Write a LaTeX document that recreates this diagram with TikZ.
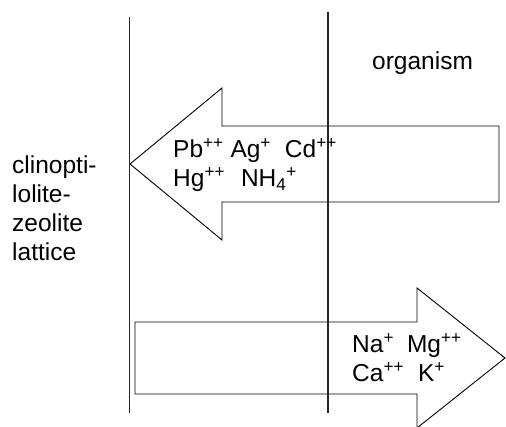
\documentclass[tikz,border=0pt]{standalone}
\usepackage{fontspec}
\setmainfont{Liberation Sans}
\usetikzlibrary{calc,positioning}
\tikzset{%
  wall/.style={line width=1.4pt,draw=black!85},
  flow/.style={line width=0.9pt,draw=black,fill=white,line join=miter},
  label text/.style={inner sep=0pt,anchor=base west,align=left,
    font=\fontsize{24.5}{29}\selectfont}
}

\begin{document}
\begin{tikzpicture}[x=1pt,y=-1pt]

 \useasboundingbox (0,0) rectangle (506,427);

 % lattice surface and organism boundary
 \coordinate (w1t) at (129.5,17);
 \coordinate (w1b) at (129.5,413);
 \coordinate (w2t) at (328,12);
 \coordinate (w2b) at (328,413);

 % ions taken up by the lattice
 \draw[flow] (130,164) -- (222,88) -- (222,126) -- (499,126) -- (499,202)
   -- (222,202) -- (222,240) -- cycle;
 % ions given off to the organism
 \draw[flow] (135,322) -- (417,322) -- (417,288) -- (505,358) -- (417,428)
   -- (417,394) -- (135,394) -- cycle;

 \draw[wall] (w1t) -- (w1b);
 \draw[wall] (w2t) -- (w2b);

 % base anchor = baseline of the last line
 \node[label text] (org) at (372,70) {organism};
 \node[label text] (zeo) at (12,261) {clinopti-\\lolite-\\zeolite\\lattice};
 \node[label text] (heavy) at (173,187)
   {Pb\textsuperscript{++} Ag\textsuperscript{+}\hspace{14pt}Cd\textsuperscript{++}\\
    Hg\textsuperscript{++}\hspace{16pt}NH\textsubscript{4}\textsuperscript{+}};
 \node[label text] (light) at (352,382)
   {Na\textsuperscript{+}\hspace{13pt}Mg\textsuperscript{++}\\
    Ca\textsuperscript{++}\hspace{14pt}K\textsuperscript{+}};

\end{tikzpicture}
\end{document}
